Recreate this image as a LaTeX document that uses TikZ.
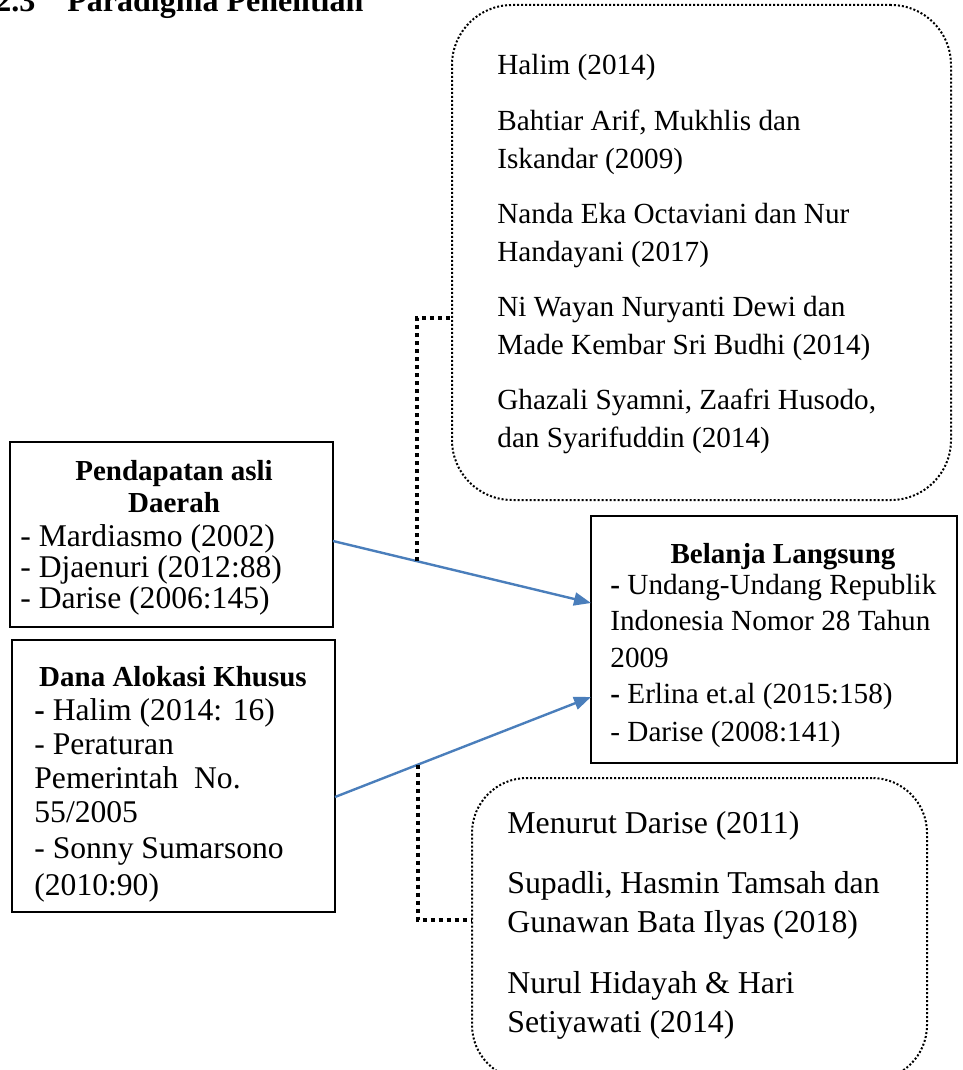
\documentclass[tikz,border=0pt]{standalone}
\usepackage{fontspec}
\setmainfont{Liberation Serif}
\usetikzlibrary{arrows.meta}
\definecolor{arrblue}{HTML}{4A7EBB}
\tikzset{
  box/.style={draw=black,line width=0.7pt,inner sep=0pt,outer sep=0pt,anchor=north west},
  dotbox/.style={draw=black,line width=1pt,dash pattern=on 1pt off 1pt,rounded corners=#1,inner sep=0pt,outer sep=0pt,anchor=north west},
  ttlf/.style={anchor=base west,inner sep=0pt,font=\fontsize{16}{19}\selectfont\bfseries},
  topf/.style={anchor=base west,inner sep=0pt,font=\fontsize{14.6}{17}\selectfont},
  botf/.style={anchor=base west,inner sep=0pt,font=\fontsize{15.9}{18}\selectfont},
  belf/.style={anchor=base west,inner sep=0pt,font=\fontsize{14.6}{17}\selectfont},
  headf/.style={anchor=base,inner sep=0pt,font=\fontsize{14.5}{17}\selectfont\bfseries},
  leftf/.style={anchor=base west,inner sep=0pt,font=\fontsize{15.8}{18}\selectfont},
  arr/.style={draw=arrblue,line width=1.2pt,-{Triangle[length=8.5pt,width=6.5pt]}},
  conn/.style={draw=black,line width=2pt,dash pattern=on 2pt off 2pt},
}
\begin{document}
\begin{tikzpicture}[x=0.5pt,y=-0.5pt]
\useasboundingbox (0,0) rectangle (963,1070);
\clip (0,0) rectangle (963,1070);

% title
\node[ttlf] (secnum) at (-5,12) {2.3};
\node[ttlf] (sectitle) at (67,12) {Paradigma Penelitian};

% boxes
\node[dotbox=30pt, minimum width=249.5pt, minimum height=247.5pt] (lit1) at (452,5) {};
\node[dotbox=27.5pt, minimum width=227.5pt, minimum height=151pt] (lit2) at (472,778) {};
\node[box, minimum width=161.5pt, minimum height=92.5pt] (pad) at (10,442) {};
\node[box, minimum width=161.5pt, minimum height=136pt] (dak) at (12,640) {};
\node[box, minimum width=183pt, minimum height=123.5pt] (bel) at (591,516) {};

% top literature box
\node[topf] (a1) at (497,75) {Halim (2014)};
\node[topf] (a2) at (497,130.5) {Bahtiar Arif, Mukhlis dan};
\node[topf] (a3) at (497,168) {Iskandar (2009)};
\node[topf] (a4) at (497,223.5) {Nanda Eka Octaviani dan Nur};
\node[topf] (a5) at (497,261) {Handayani (2017)};
\node[topf] (a6) at (497,316.5) {Ni Wayan Nuryanti Dewi dan};
\node[topf] (a7) at (497,354) {Made Kembar Sri Budhi (2014)};
\node[topf] (a8) at (497,409.5) {Ghazali Syamni, Zaafri Husodo,};
\node[topf] (a9) at (497,447) {dan Syarifuddin (2014)};

% bottom literature box
\node[botf] (b1) at (507,833) {Menurut Darise (2011)};
\node[botf] (b2) at (507,893) {Supadli, Hasmin Tamsah dan};
\node[botf] (b3) at (507,932) {Gunawan Bata Ilyas (2018)};
\node[botf] (b4) at (507,993) {Nurul Hidayah \& Hari};
\node[botf] (b5) at (507,1032) {Setiyawati (2014)};

% Belanja Langsung
\node[headf] (c0) at (783,563) {Belanja Langsung};
\node[belf] (c1) at (610,594) {\textbf{-} Undang-Undang Republik};
\node[belf] (c2) at (610,630) {Indonesia Nomor 28 Tahun};
\node[belf] (c3) at (610,667) {2009};
\node[belf] (c4) at (610,703) {\textbf{-} Erlina et.al (2015:158)};
\node[belf] (c5) at (610,741) {- Darise (2008:141)};

% Pendapatan asli Daerah
\node[headf] (d0) at (174,480) {Pendapatan asli};
\node[headf] (d1) at (174,512) {Daerah};
\node[leftf] (d2) at (20,546) {- Mardiasmo (2002)};
\node[leftf] (d3) at (20,577) {- Djaenuri (2012:88)};
\node[leftf] (d4) at (20,608) {- Darise (2006:145)};

% Dana Alokasi Khusus
\node[headf] (e0) at (173,686) {Dana Alokasi Khusus};
\node[leftf] (e1) at (34,720) {\textbf{-} Halim (2014: 16)};
\node[leftf] (e2) at (34,754) {- Peraturan};
\node[leftf] (e3) at (34,788) {Pemerintah\ \ No.};
\node[leftf] (e4) at (34,822) {55/2005};
\node[leftf] (e5) at (34,858) {- Sonny Sumarsono};
\node[leftf] (e6) at (34,895) {(2010:90)};

% arrows
\draw[arr] ([yshift=-3.25pt]pad.east) -- coordinate[pos=0.326] (j1) ([yshift=18.25pt]bel.west);
\draw[arr] ([yshift=-10.5pt]dak.east) -- coordinate[pos=0.324] (j2) ([yshift=-28.75pt]bel.west);

% dotted connectors
\draw[conn] (j1) |- ([yshift=-32.75pt]lit1.west);
\draw[conn] (j2) |- ([yshift=4.5pt]lit2.west);
\end{tikzpicture}
\end{document}
